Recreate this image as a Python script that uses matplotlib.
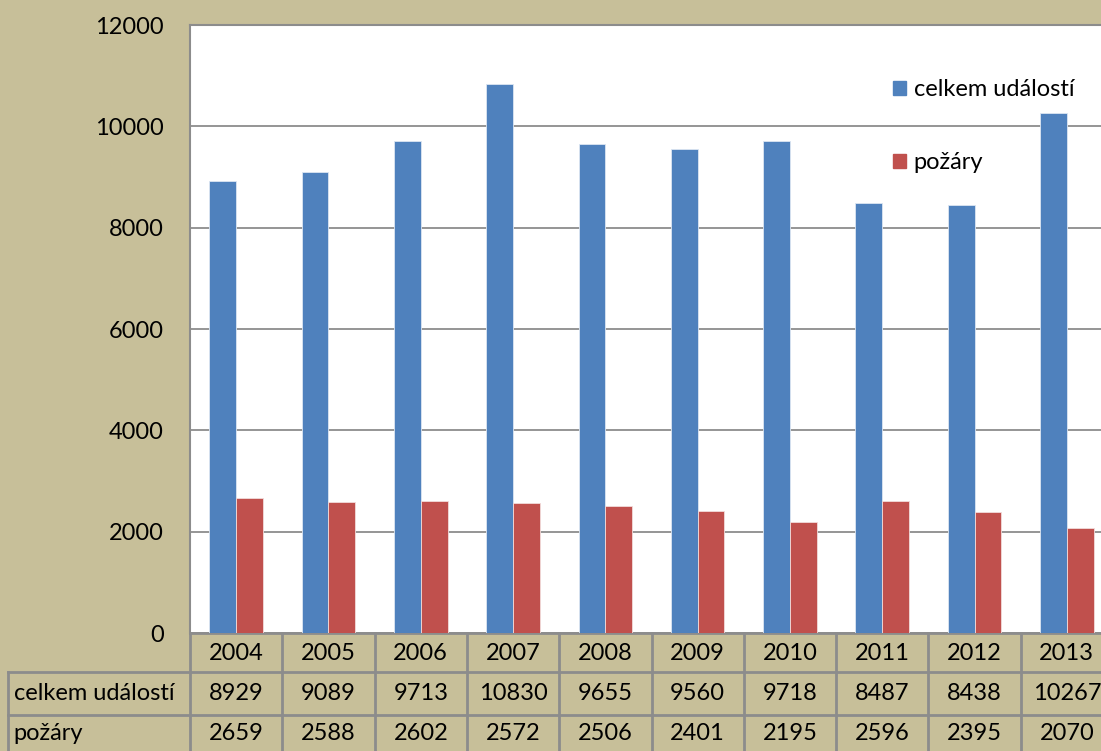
import numpy as np
import matplotlib
matplotlib.use('Agg')
import matplotlib.pyplot as plt
from matplotlib.transforms import blended_transform_factory
from matplotlib.patches import Rectangle

# chart data
years = ['2004', '2005', '2006', '2007', '2008', '2009', '2010', '2011', '2012', '2013']
celkem = [8929, 9089, 9713, 10830, 9655, 9560, 9718, 8487, 8438, 10267]
pozary = [2659, 2588, 2602, 2572, 2506, 2401, 2195, 2596, 2395, 2070]
series_names = ['celkem událostí', 'požáry']
yticks = [0, 2000, 4000, 6000, 8000, 10000, 12000]

BG = '#c7bf99'
BLUE = '#4f81bd'
RED = '#c0504d'
GRID = '#8c8c8c'
FS = 17

plt.rcParams['font.family'] = ['Lato', 'DejaVu Sans']

W, H = 1101, 751
fig = plt.figure(figsize=(W / 100, H / 100), dpi=100, facecolor=BG)

# plot area in pixels
left, top, bottom, col_w = 190, 25, 633, 92.3
ph = bottom - top
ax = fig.add_axes([left / W, (H - bottom) / H, 10 * col_w / W, ph / H])
ax.set_facecolor('white')

x = np.arange(len(years))
bw = 0.29
ax.bar(x - bw / 2, celkem, bw, color=BLUE, edgecolor='#dce6f2', linewidth=0.6, zorder=3)
ax.bar(x + bw / 2, pozary, bw, color=RED, edgecolor='#f2dcdb', linewidth=0.6, zorder=3)

ax.set_xlim(-0.5, len(years) - 0.5)
ax.set_ylim(0, 12000)
ax.set_yticks(yticks)
ax.set_yticklabels([str(v) for v in yticks], fontsize=FS)
ax.tick_params(axis='y', length=0, pad=19)
ax.set_xticks([])
ax.grid(axis='y', color=GRID, linewidth=1.3, zorder=0)
for side in ['left', 'top']:
    ax.spines[side].set_color(GRID)
    ax.spines[side].set_linewidth(1.5)
ax.spines['right'].set_visible(False)
ax.spines['bottom'].set_visible(False)

# legend
hb = Rectangle((0, 0), 1, 1, color=BLUE)
hr = Rectangle((0, 0), 1, 1, color=RED)
ax.legend([hb, hr], series_names, loc='upper left',
          bbox_to_anchor=((884 - left) / (10 * col_w), (bottom - 70) / ph),
          frameon=False, fontsize=FS, handlelength=0.55, handleheight=0.55,
          handletextpad=0.3, labelspacing=2.2, borderaxespad=0)

# data table below the plot
tr = blended_transform_factory(ax.transData, ax.transAxes)
row_edges = [0, -39 / ph, -82 / ph, -130 / ph]
row_centers = [-(653 - bottom) / ph, -(693 - bottom) / ph, -(734 - bottom) / ph]
x_left = -0.5 - (left - 8) / col_w
x_end = len(years) - 0.5
lkw = dict(color=GRID, linewidth=2, transform=tr, clip_on=False)

ax.plot([-0.5, x_end], [row_edges[0]] * 2, **lkw)
for r in row_edges[1:3]:
    ax.plot([x_left, x_end], [r, r], **lkw)
for i in range(len(years) + 1):
    ax.plot([i - 0.5, i - 0.5], [row_edges[0], row_edges[3]], **lkw)
ax.plot([x_left, x_left], [row_edges[1], row_edges[3]], **lkw)

tkw = dict(fontsize=FS, transform=tr, va='center', clip_on=False)
rows = [years, [str(v) for v in celkem], [str(v) for v in pozary]]
for ri, vals in enumerate(rows):
    yc = row_centers[ri]
    for i, v in enumerate(vals):
        ax.text(i, yc, v, ha='center', **tkw)
    if ri > 0:
        ax.text(x_left + 0.06, yc, series_names[ri - 1], ha='left', **tkw)

fig.savefig('out.png', dpi=100, facecolor=BG)
